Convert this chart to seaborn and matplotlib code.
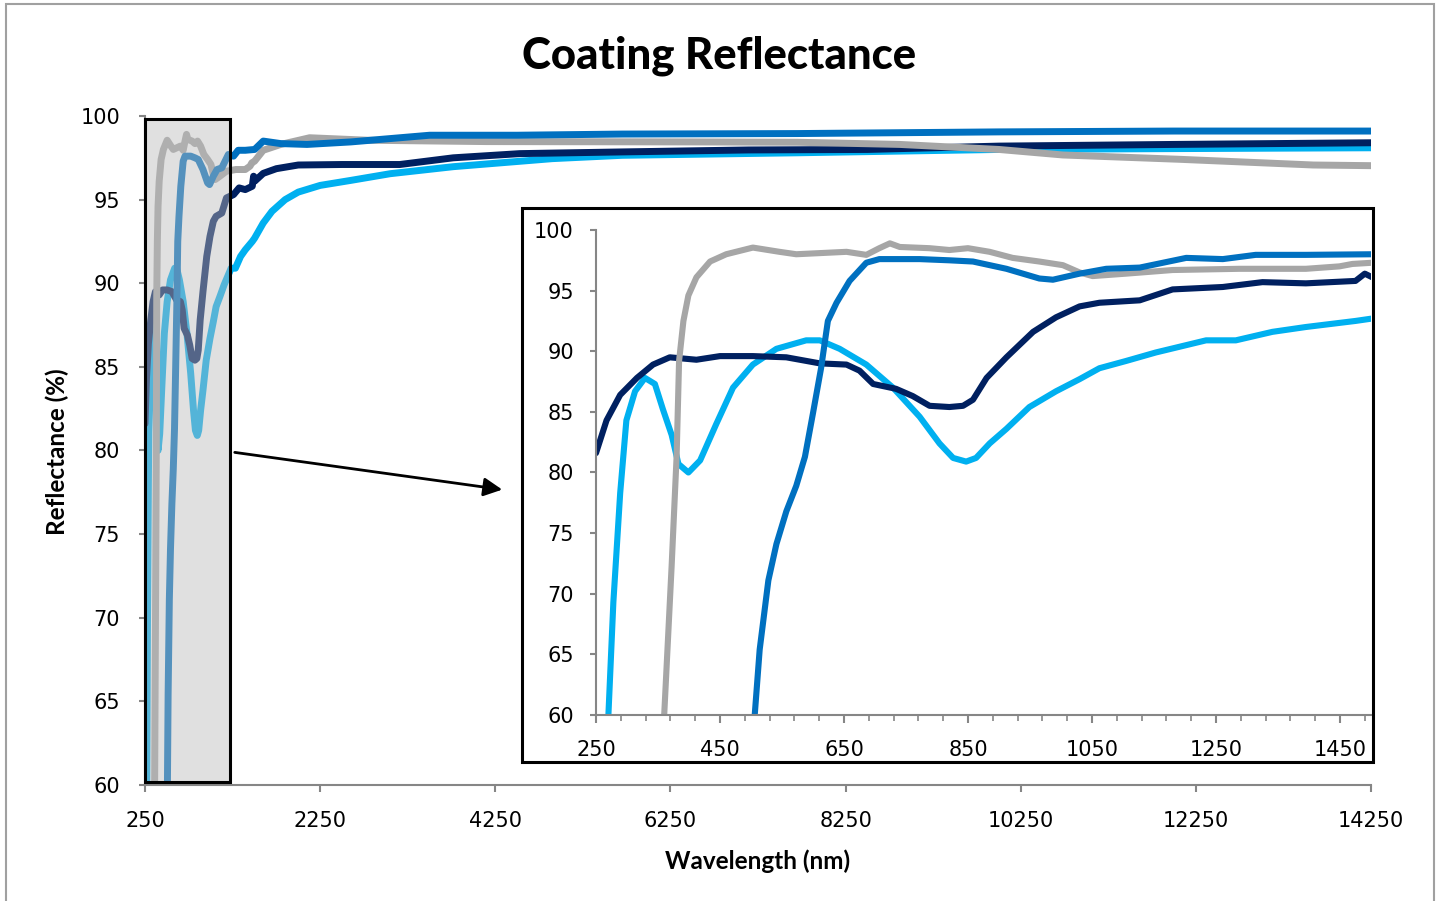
import matplotlib
matplotlib.use('Agg')
import matplotlib.pyplot as plt
from matplotlib.patches import Rectangle
import seaborn as sns
import numpy as np

# Curvas de refletância (leitura da figura) — faixa 250-1500 nm (inset)
lblue_x = [270, 278, 289, 299, 313, 329, 345, 358, 372, 383, 399, 418, 444, 471, 503, 541,
           589, 611, 643, 686, 729, 772, 804, 826, 847, 863, 885, 912, 949, 992, 1030, 1062,
           1105, 1153, 1234, 1282, 1341, 1395, 1475, 1502]
lblue_y = [60, 69.3, 78.3, 84.3, 86.7, 87.8, 87.3, 85.2, 83.1, 80.7, 80.0, 81.0, 84.0, 87.0,
           88.9, 90.2, 90.9, 90.9, 90.2, 88.9, 87.0, 84.6, 82.4, 81.2, 80.9, 81.2, 82.4, 83.6,
           85.4, 86.7, 87.7, 88.6, 89.2, 89.9, 90.9, 90.9, 91.6, 92.0, 92.5, 92.7]

navy_x = [250, 267, 289, 316, 342, 369, 412, 450, 503, 557, 611, 654, 675, 697, 734, 761,
          788, 820, 842, 858, 880, 912, 955, 992, 1030, 1062, 1127, 1180, 1261, 1325, 1395,
          1475, 1490, 1502]
navy_y = [81.6, 84.3, 86.4, 87.8, 88.9, 89.5, 89.3, 89.6, 89.6, 89.5, 89.0, 88.9, 88.4, 87.3,
          86.9, 86.3, 85.5, 85.4, 85.5, 86.0, 87.8, 89.5, 91.6, 92.8, 93.7, 94.0, 94.2, 95.1,
          95.3, 95.7, 95.6, 95.8, 96.4, 96.1]

gray_x = [360, 372, 380, 384, 391, 399, 412, 434, 460, 503, 546, 573, 654, 686, 707, 724,
          740, 788, 820, 850, 885, 922, 965, 1003, 1030, 1051, 1105, 1180, 1288, 1395, 1449,
          1470, 1502]
gray_y = [60, 72.3, 81.3, 89.2, 92.5, 94.6, 96.1, 97.4, 98.0, 98.55, 98.2, 98.0, 98.2, 97.95,
          98.5, 98.9, 98.6, 98.5, 98.35, 98.5, 98.2, 97.7, 97.4, 97.1, 96.5, 96.2, 96.4, 96.7,
          96.8, 96.8, 97.0, 97.2, 97.3]

blue_x = [506, 514, 528, 541, 557, 573, 587, 600, 613, 624, 638, 659, 686, 707, 772, 820,
          858, 912, 965, 987, 1030, 1073, 1127, 1202, 1261, 1314, 1395, 1502]
blue_y = [60, 65.4, 71.1, 74.1, 76.8, 78.9, 81.3, 84.9, 88.6, 92.5, 94.0, 95.8, 97.3, 97.6,
          97.6, 97.5, 97.4, 96.8, 96.0, 95.9, 96.4, 96.8, 96.9, 97.7, 97.6, 97.95, 97.95, 98.0]

# Continuação até 14250 nm (gráfico principal)
lblue_ext_x = [1600, 1700, 1850, 2000, 2250, 2600, 3050, 3770, 4900, 5700, 7700, 10000, 12000, 14250]
lblue_ext_y = [93.6, 94.3, 95.0, 95.45, 95.85, 96.15, 96.55, 96.97, 97.45, 97.65, 97.8, 98.0, 98.05, 98.1]

navy_ext_x = [1600, 1750, 2000, 2500, 3160, 3770, 4530, 5670, 7140, 8500, 10000, 12000, 14250]
navy_ext_y = [96.57, 96.85, 97.07, 97.1, 97.1, 97.5, 97.75, 97.85, 97.97, 98.0, 98.2, 98.3, 98.4]

gray_ext_x = [1600, 1800, 2130, 2800, 4150, 6500, 7700, 8870, 10000, 10730, 12070, 13590, 14250]
gray_ext_y = [97.95, 98.3, 98.7, 98.55, 98.47, 98.45, 98.43, 98.3, 98.0, 97.67, 97.41, 97.07, 97.03]

blue_ext_x = [1600, 1800, 2100, 2600, 3500, 4500, 5700, 7700, 10000, 12000, 14250]
blue_ext_y = [98.5, 98.35, 98.3, 98.45, 98.85, 98.85, 98.92, 98.95, 99.05, 99.1, 99.1]

series = [
    ('lblue', lblue_x, lblue_y, lblue_ext_x, lblue_ext_y, '#00B0F0'),
    ('navy', navy_x, navy_y, navy_ext_x, navy_ext_y, '#002060'),
    ('gray', gray_x, gray_y, gray_ext_x, gray_ext_y, '#A6A6A6'),
    ('blue', blue_x, blue_y, blue_ext_x, blue_ext_y, '#0070C0'),
]

main_xticks = list(range(250, 14251, 2000))
inset_xticks = list(range(250, 1451, 200))
inset_minor = list(range(250, 1500, 40))
yticks = list(range(60, 101, 5))

sns.set_style('white')
plt.rcParams['font.family'] = ['DejaVu Sans']
AXC = '#868686'
W = 1439
H = 901

fig = plt.figure(figsize=(14.39, 9.01), dpi=100)

# gráfico principal
ax = fig.add_axes([145 / W, 1 - 785 / H, (1371 - 145) / W, (785 - 116) / H])
for nome, x, y, ex, ey, cor in series:
    sns.lineplot(x=x + ex, y=y + ey, color=cor, lw=5, ax=ax, estimator=None, sort=False)
ax.set_xlim(250, 14250)
ax.set_ylim(60, 100)
ax.set_xticks(main_xticks)
ax.set_yticks(yticks)
ax.set_xlabel('')
ax.set_ylabel('')
for s in ['top', 'right']:
    ax.spines[s].set_visible(False)
for s in ['left', 'bottom']:
    ax.spines[s].set_color(AXC)
    ax.spines[s].set_linewidth(1.5)
ax.tick_params(axis='x', direction='out', length=5, width=1.5, color=AXC, labelsize=15, pad=14,
               bottom=True, labelcolor='black')
ax.tick_params(axis='y', direction='out', length=4, width=1.5, color=AXC, labelsize=15, pad=14,
               left=True, labelcolor='black')

# caixa cinza destacando a região ampliada
ax.add_patch(Rectangle((250, 60.2), 970, 39.6, facecolor=(0.733, 0.733, 0.733, 0.45),
                       edgecolor='black', lw=2.2, zorder=5, clip_on=False))

# seta para o inset
ax.annotate('', xy=(505 / W, 1 - 490 / H), xycoords='figure fraction',
            xytext=(232 / W, 1 - 452 / H), textcoords='figure fraction',
            arrowprops=dict(arrowstyle='-|>', color='black', lw=2, mutation_scale=28))

# moldura do inset
fig.patches.append(Rectangle((522 / W, 1 - 762 / H), (1373 - 522) / W, (762 - 208) / H,
                             transform=fig.transFigure, facecolor='white', edgecolor='black',
                             lw=2.2, zorder=1))

# inset 250-1500 nm
ax_in = fig.add_axes([596 / W, 1 - 715 / H, (1371 - 596) / W, (715 - 230) / H])
ax_in.set_zorder(2)
for nome, x, y, ex, ey, cor in series:
    sns.lineplot(x=x, y=y, color=cor, lw=4.4, ax=ax_in, estimator=None, sort=False)
ax_in.set_xlim(250, 1500)
ax_in.set_ylim(60, 100)
ax_in.set_xticks(inset_xticks)
ax_in.set_xticks(inset_minor, minor=True)
ax_in.set_yticks(yticks)
ax_in.set_xlabel('')
ax_in.set_ylabel('')
for s in ['top', 'right']:
    ax_in.spines[s].set_visible(False)
for s in ['left', 'bottom']:
    ax_in.spines[s].set_color(AXC)
    ax_in.spines[s].set_linewidth(1.5)
ax_in.tick_params(axis='x', which='major', direction='out', length=6, width=1.5, color=AXC,
                  labelsize=15, pad=12, bottom=True, labelcolor='black')
ax_in.tick_params(axis='x', which='minor', direction='out', length=4, width=1.2, color=AXC, bottom=True)
ax_in.tick_params(axis='y', direction='out', length=4, width=1.5, color=AXC, labelsize=15,
                  pad=12, left=True, labelcolor='black')

# textos
fig.text(0.5, 1 - 56 / H, 'Coating Reflectance', ha='center', va='center', color='black',
         fontsize=31.5, fontweight='black', family='Lato')
fig.text(57 / W, 1 - 452 / H, 'Reflectance (%)', ha='center', va='center', rotation=90,
         color='black', fontsize=17.5, fontweight='bold', family='Lato')
fig.text(758 / W, 1 - 861 / H, 'Wavelength (nm)', ha='center', va='center', color='black',
         fontsize=17.5, fontweight='bold', family='Lato')

# borda externa do gráfico
fig.patches.append(Rectangle((6 / W, -0.02), (1434 - 6) / W, 1.02 - 4 / H,
                             transform=fig.transFigure, facecolor='none',
                             edgecolor='#A0A0A0', lw=1.5, zorder=0))

fig.savefig('out.png', dpi=100)
